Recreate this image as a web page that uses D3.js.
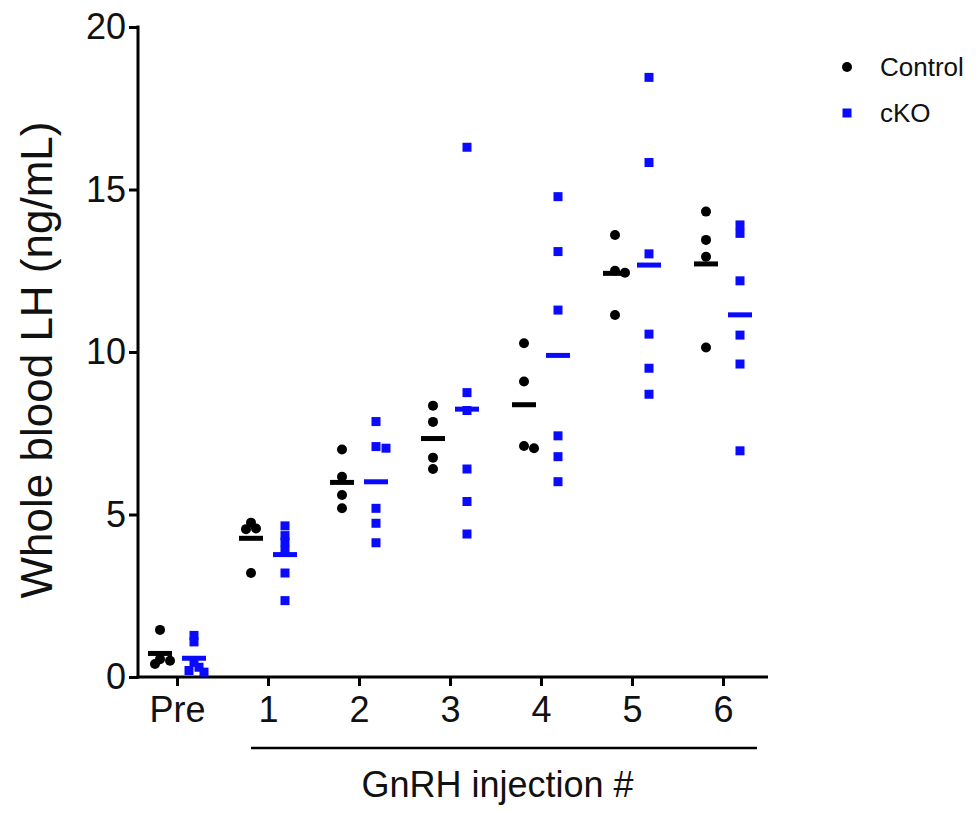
<!DOCTYPE html>
<html>
<head>
<meta charset="utf-8">
<script src="https://cdn.jsdelivr.net/npm/d3@7"></script>
<style>
  body { margin: 0; background: #fff; }
  svg { font-family: "Liberation Sans", Arial, Helvetica, sans-serif; }
</style>
</head>
<body>
<svg id="chart" width="976" height="813"></svg>
<script>
// categories on the x axis
const groups = ["Pre", "1", "2", "3", "4", "5", "6"];

// LH values (ng/mL), one array per group
const controlValues = [
  [1.45, 0.55, 0.5, 0.4],
  [4.75, 4.57, 4.55, 3.2],
  [7.0, 6.16, 5.6, 5.19],
  [8.35, 7.85, 6.75, 6.4],
  [10.27, 9.09, 7.11, 7.04],
  [13.6, 12.5, 12.44, 11.14],
  [14.32, 13.45, 12.93, 10.14]
];
const ckoValues = [
  [1.28, 1.08, 0.45, 0.3, 0.2, 0.15],
  [4.65, 4.35, 4.15, 3.9, 3.2, 2.35],
  [7.86, 7.09, 7.04, 5.19, 4.73, 4.13],
  [16.3, 8.75, 8.2, 6.4, 5.4, 4.4],
  [14.78, 13.09, 11.29, 7.42, 6.78, 6.01],
  [18.45, 15.83, 13.02, 10.55, 9.5, 8.7],
  [13.91, 13.65, 12.19, 10.52, 9.63, 6.96]
];

const yTicks = [0, 5, 10, 15, 20];
const seriesNames = ["Control", "cKO"];

const svg = d3.select("#chart");

const x = d3.scalePoint().domain(groups).range([177, 723]);
const y = d3.scaleLinear().domain([0, 20]).range([677, 27]);

const blue = "#0a0aff";
const offset = 17;

// y axis
const yAxis = svg.append("g")
    .attr("transform", "translate(138,0)")
    .call(d3.axisLeft(y).tickValues(yTicks).tickSize(9).tickPadding(3).tickSizeOuter(0));
yAxis.select(".domain").remove();
yAxis.selectAll(".tick line").attr("stroke", "#000").attr("stroke-width", 3);
yAxis.selectAll(".tick text").attr("font-size", 36).attr("fill", "#111")
    .attr("font-family", "Liberation Sans, Arial, sans-serif");
svg.append("line")
    .attr("x1", 138).attr("x2", 138)
    .attr("y1", y(20) - 1.5).attr("y2", y(0) + 1.5)
    .attr("stroke", "#000").attr("stroke-width", 3);

// x axis
const xAxis = svg.append("g")
    .attr("transform", `translate(0,${y(0)})`)
    .call(d3.axisBottom(x).tickSize(9).tickPadding(10).tickSizeOuter(0));
xAxis.select(".domain").remove();
xAxis.selectAll(".tick line").attr("stroke", "#000").attr("stroke-width", 3);
xAxis.selectAll(".tick text").attr("font-size", 36).attr("fill", "#111")
    .attr("font-family", "Liberation Sans, Arial, sans-serif");
svg.append("line")
    .attr("x1", 136.5).attr("x2", 768)
    .attr("y1", y(0)).attr("y2", y(0))
    .attr("stroke", "#000").attr("stroke-width", 3);

// bracket under injections
svg.append("line")
    .attr("x1", 251).attr("x2", 757)
    .attr("y1", 748).attr("y2", 748)
    .attr("stroke", "#000").attr("stroke-width", 2.5);
svg.append("text")
    .attr("x", (x("1") + x("6")) / 2 + 2).attr("y", 797)
    .attr("text-anchor", "middle").attr("font-size", 36).attr("fill", "#111")
    .text("GnRH injection #");

// y title
svg.append("text")
    .attr("transform", `translate(52,${(y(0) + y(20)) / 2 + 8}) rotate(-90)`)
    .attr("text-anchor", "middle").attr("font-size", 44).attr("fill", "#111")
    .text("Whole blood LH (ng/mL)");

// nudge points sideways only when they sit almost on top of each other
function place(values, cx, minDist) {
  const placed = [];
  const steps = [0, 5, -5, 10, -10];
  values.slice().sort((a, b) => b - a).forEach(v => {
    const py = y(v);
    let px = cx;
    for (const s of steps) {
      const ok = placed.every(p => Math.hypot(p.x - (cx + s), p.y - py) >= minDist);
      if (ok) { px = cx + s; break; }
    }
    placed.push({ x: px, y: py, v });
  });
  return placed;
}

const points = svg.append("g");
const means = svg.append("g");

groups.forEach((g, i) => {
  const cx0 = x(g) - offset;
  const cx1 = x(g) + offset;

  points.selectAll(null)
    .data(place(controlValues[i], cx0, 6))
    .enter().append("circle")
    .attr("cx", d => d.x).attr("cy", d => d.y).attr("r", 5)
    .attr("fill", "#000");

  points.selectAll(null)
    .data(place(ckoValues[i], cx1, 6))
    .enter().append("rect")
    .attr("x", d => d.x - 4.5).attr("y", d => d.y - 4.5)
    .attr("width", 9).attr("height", 9)
    .attr("fill", blue);

  // mean bars
  means.append("rect")
    .attr("x", cx0 - 12).attr("y", y(d3.mean(controlValues[i])) - 2.5)
    .attr("width", 24).attr("height", 5).attr("fill", "#000");
  means.append("rect")
    .attr("x", cx1 - 12).attr("y", y(d3.mean(ckoValues[i])) - 2.5)
    .attr("width", 24).attr("height", 5).attr("fill", blue);
});

// legend
const legend = svg.append("g").attr("transform", "translate(847,67)");
legend.append("circle").attr("cx", 0).attr("cy", 0).attr("r", 5).attr("fill", "#000");
legend.append("rect").attr("x", -4.5).attr("y", 46 - 4.5).attr("width", 9).attr("height", 9).attr("fill", blue);
legend.selectAll(".lab")
    .data(seriesNames)
    .enter().append("text")
    .attr("x", 33).attr("y", (d, i) => i * 46 + 9)
    .attr("font-size", 26).attr("fill", "#111")
    .text(d => d);
</script>
</body>
</html>
